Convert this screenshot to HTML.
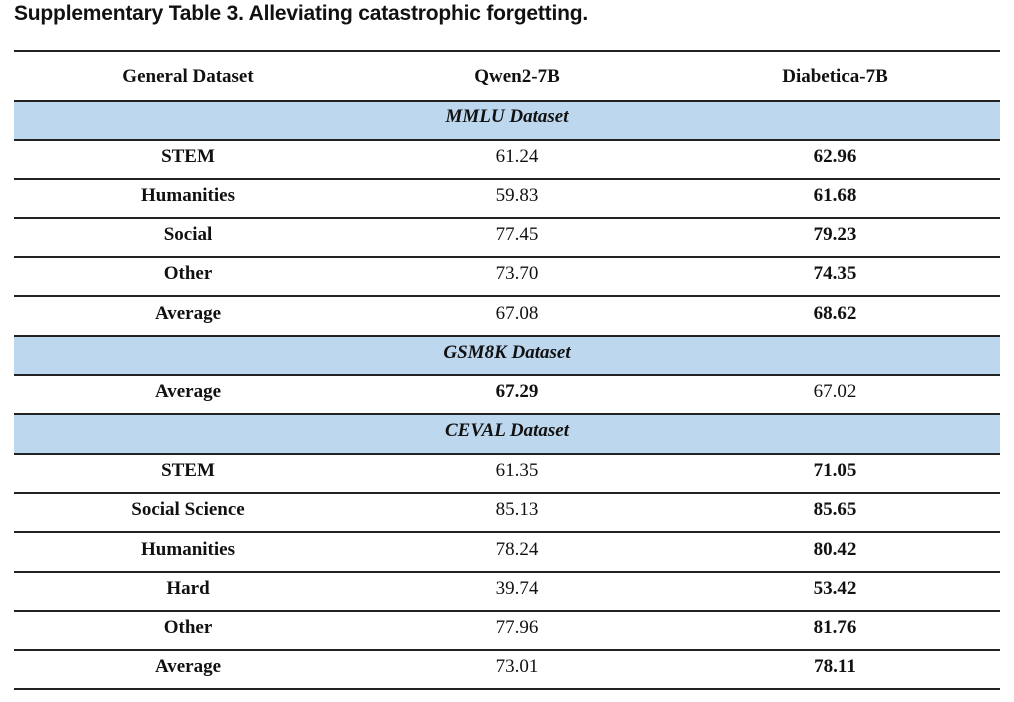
<!DOCTYPE html>
<html><head><meta charset="utf-8"><style>
body{margin:0;width:1014px;height:702px;background:#fff;position:relative;overflow:hidden;font-family:"Liberation Serif",serif;color:#111}
.title{position:absolute;left:14px;top:2px;font:bold 21px "Liberation Sans",sans-serif;letter-spacing:-0.2px;color:#111}
.line{position:absolute;left:14px;width:986px;height:2px;background:#222}
.band{position:absolute;left:14px;width:986px;background:#bdd7ee}
.row{position:absolute;left:14px;width:986px;font-size:19px;display:flex;align-items:center}
.c1{position:absolute;width:300px;left:24px;text-align:center;font-weight:bold}
.c2{position:absolute;width:300px;left:353px;text-align:center}
.c3{position:absolute;width:300px;left:671px;text-align:center}
.b{font-weight:bold}
.sec{position:absolute;width:986px;text-align:center;font-style:italic;font-weight:bold}
</style></head><body>
<div class="title">Supplementary Table 3. Alleviating catastrophic forgetting.</div>
<div class="band" style="top:102px;height:38px"></div>
<div class="band" style="top:337px;height:38px"></div>
<div class="band" style="top:415px;height:39px"></div>
<div class="line" style="top:50px"></div>
<div class="line" style="top:100px"></div>
<div class="line" style="top:139px"></div>
<div class="line" style="top:178px"></div>
<div class="line" style="top:217px"></div>
<div class="line" style="top:256px"></div>
<div class="line" style="top:295px"></div>
<div class="line" style="top:335px"></div>
<div class="line" style="top:374px"></div>
<div class="line" style="top:413px"></div>
<div class="line" style="top:453px"></div>
<div class="line" style="top:492px"></div>
<div class="line" style="top:531px"></div>
<div class="line" style="top:571px"></div>
<div class="line" style="top:610px"></div>
<div class="line" style="top:649px"></div>
<div class="line" style="top:688px"></div>

<div class="row" style="top:53px;height:48px"><span class="c1">General Dataset</span><span class="c2 b">Qwen2-7B</span><span class="c3 b">Diabetica-7B</span></div>
<div class="row" style="top:98px;height:38px"><span class="sec">MMLU Dataset</span></div>
<div class="row" style="top:138px;height:38px"><span class="c1">STEM</span><span class="c2">61.24</span><span class="c3 b">62.96</span></div>
<div class="row" style="top:177px;height:38px"><span class="c1">Humanities</span><span class="c2">59.83</span><span class="c3 b">61.68</span></div>
<div class="row" style="top:216px;height:38px"><span class="c1">Social</span><span class="c2">77.45</span><span class="c3 b">79.23</span></div>
<div class="row" style="top:255px;height:38px"><span class="c1">Other</span><span class="c2">73.70</span><span class="c3 b">74.35</span></div>
<div class="row" style="top:294px;height:39px"><span class="c1">Average</span><span class="c2">67.08</span><span class="c3 b">68.62</span></div>
<div class="row" style="top:334px;height:38px"><span class="sec">GSM8K Dataset</span></div>
<div class="row" style="top:373px;height:38px"><span class="c1">Average</span><span class="c2 b">67.29</span><span class="c3">67.02</span></div>
<div class="row" style="top:411px;height:39px"><span class="sec">CEVAL Dataset</span></div>
<div class="row" style="top:452px;height:38px"><span class="c1">STEM</span><span class="c2">61.35</span><span class="c3 b">71.05</span></div>
<div class="row" style="top:491px;height:38px"><span class="c1">Social Science</span><span class="c2">85.13</span><span class="c3 b">85.65</span></div>
<div class="row" style="top:530px;height:39px"><span class="c1">Humanities</span><span class="c2">78.24</span><span class="c3 b">80.42</span></div>
<div class="row" style="top:570px;height:38px"><span class="c1">Hard</span><span class="c2">39.74</span><span class="c3 b">53.42</span></div>
<div class="row" style="top:609px;height:38px"><span class="c1">Other</span><span class="c2">77.96</span><span class="c3 b">81.76</span></div>
<div class="row" style="top:648px;height:38px"><span class="c1">Average</span><span class="c2">73.01</span><span class="c3 b">78.11</span></div>
</body></html>
